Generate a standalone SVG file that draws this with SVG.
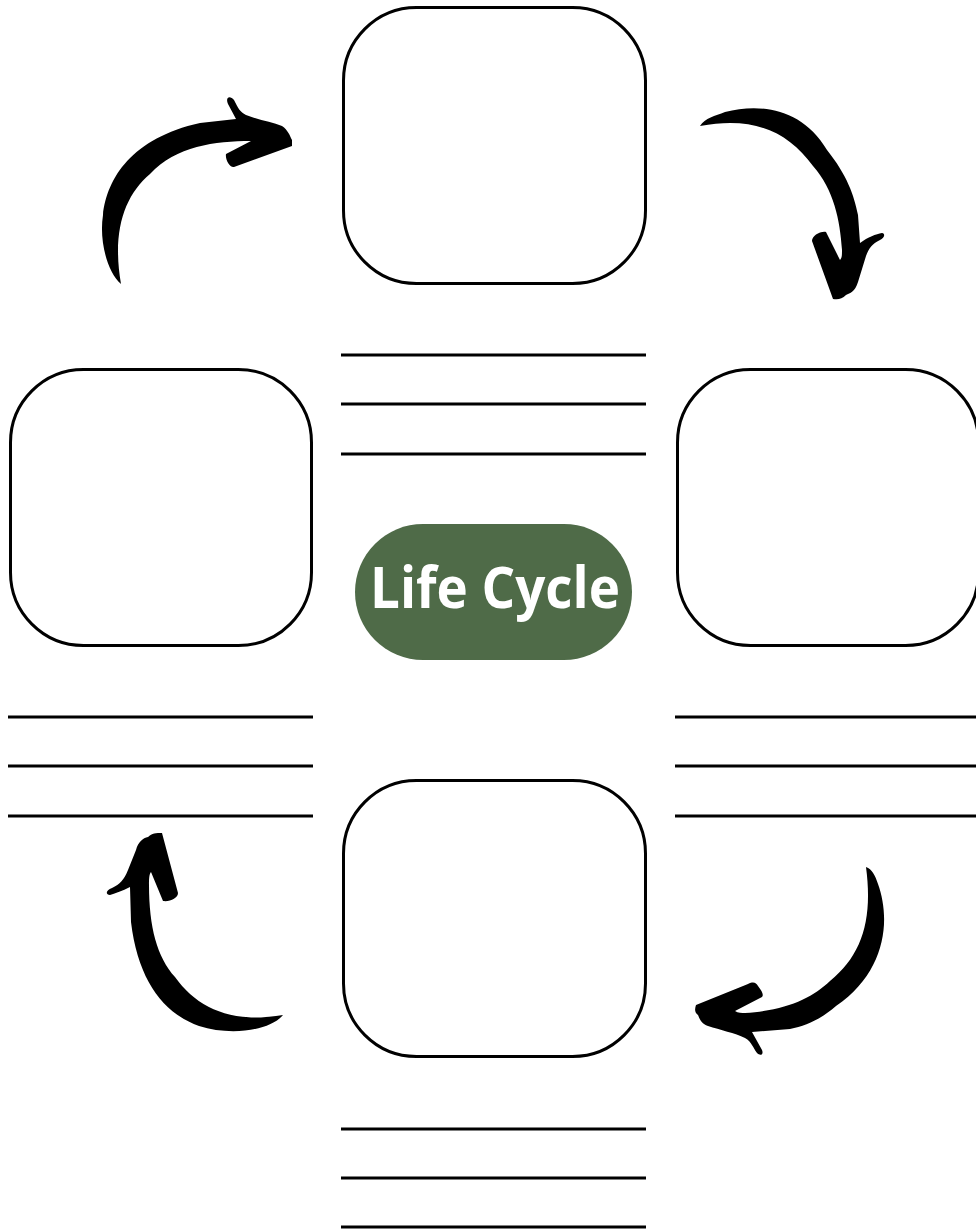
<svg xmlns="http://www.w3.org/2000/svg" width="976" height="1230" viewBox="0 0 976 1230">
<style>
.box{fill:#fff;stroke:#000;stroke-width:3}
.ln{stroke:#000;stroke-width:3}
.arr{fill:#000;stroke:none}
.pill{fill:#4F6B48}
.lbl{font-family:"Open Sans","Liberation Sans",sans-serif;font-weight:700;font-size:57px;fill:#fff}
</style>
<rect width="976" height="1230" fill="#fff"/>
<g id="node-top"><rect class="box" x="343.5" y="7.5" width="302" height="276" rx="73"/></g>
<g id="node-left"><rect class="box" x="10.5" y="369.5" width="301" height="276" rx="73"/></g>
<g id="node-right"><rect class="box" x="677.5" y="369.5" width="301" height="276" rx="73"/></g>
<g id="node-bottom"><rect class="box" x="343.5" y="780.5" width="302" height="276" rx="73"/></g>
<g id="node-center">
<rect class="pill" x="355" y="524" width="277" height="136" rx="68"/>
<text class="lbl" x="370" y="608" textLength="250" lengthAdjust="spacingAndGlyphs">Life Cycle</text>
</g>
<g id="writing-lines">
<line class="ln" x1="341" y1="355" x2="646" y2="355"/>
<line class="ln" x1="341" y1="404" x2="646" y2="404"/>
<line class="ln" x1="341" y1="454" x2="646" y2="454"/>
<line class="ln" x1="8" y1="717" x2="313" y2="717"/>
<line class="ln" x1="8" y1="766" x2="313" y2="766"/>
<line class="ln" x1="8" y1="816" x2="313" y2="816"/>
<line class="ln" x1="675" y1="717" x2="976" y2="717"/>
<line class="ln" x1="675" y1="766" x2="976" y2="766"/>
<line class="ln" x1="675" y1="816" x2="976" y2="816"/>
<line class="ln" x1="341" y1="1129" x2="646" y2="1129"/>
<line class="ln" x1="341" y1="1178" x2="646" y2="1178"/>
<line class="ln" x1="341" y1="1227" x2="646" y2="1227"/>
</g>
<g id="connectors">
<path class="arr" d="M121,284 C107,272 99,240 103,215 C107,178 132,138 200,123 L236,119 L228,104 C225,97 230,95 234,100 C238,108 240,112 246,115 C258,120 272,122 282,126 C288,130 290,136 292,140 L292,146 L234,167 C230,168 225,160 226,154 L251,141 C215,141 176,146 150,174 C124,196 112,232 121,284 Z"/>
<path class="arr" d="M700,126 C705,118 715,116 725,112 C760,103 802,108 827,150 C847,175 854,195 858,215 L860,243 C868,237 876,234 882,233 C886,234 884,238 880,240 C872,244 869,248 866,256 L858,282 C855,292 850,293 846,295 C842,299 838,300 833,299 L812,241 C812,236 820,231 826,232 L840,260 C842,258 842,255 842,250 C840,220 834,190 813,166 C788,132 755,116 700,126 Z"/>
<path class="arr" d="M866,867 C872,869 875,875 878,884 C891,920 886,972 836,1006 C821,1019 806,1026 790,1029 L752,1032 L762,1050 C764,1055 760,1056 757,1053 C753,1048 752,1042 745,1038 C735,1033 720,1030 708,1026 C702,1024 700,1020 698,1015 C694,1012 695,1008 696,1005 L748,984 C754,981 756,983 758,986 C762,991 764,995 762,997 L735,1011 C738,1013 742,1013 745,1013 C788,1010 812,998 830,981 C862,955 873,920 866,867 Z"/>
<path class="arr" d="M283,1015 C270,1031 230,1036 199,1026 C163,1013 138,980 131,922 L130,887 C122,891 116,893 110,895 C105,895 106,890 112,888 C120,884 124,880 128,870 L136,850 C138,842 143,838 148,837 C152,833 156,833 162,833 L178,893 C178,898 170,902 163,901 L151,872 C149,874 149,880 149,885 C149,927 157,957 175,977 C197,1008 232,1024 283,1015 Z"/>
</g>
</svg>
